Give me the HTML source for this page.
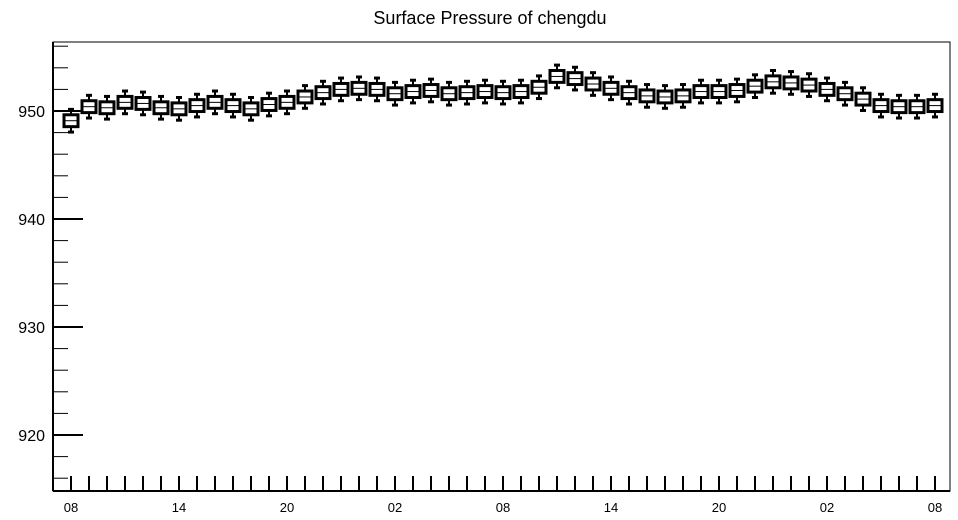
<!DOCTYPE html>
<html><head><meta charset="utf-8"><style>
body{margin:0;background:#fff;}
svg{display:block;font-family:"Liberation Sans",sans-serif;}
</style></head><body>
<svg id="c" width="958" height="520">
<text x="490" y="24" text-anchor="middle" font-size="18">Surface Pressure of chengdu</text>
<g id="axes"></g><g id="boxes"></g>
</svg>
<script>
const medians=[949.1,950.4,950.3,950.8,950.7,950.3,950.2,950.5,950.8,950.5,950.2,950.6,950.8,951.3,951.7,952.0,952.1,952.0,951.6,951.8,951.9,951.6,951.7,951.8,951.7,951.8,952.2,953.2,953.0,952.5,952.1,951.7,951.4,951.3,951.4,951.8,951.8,951.9,952.3,952.7,952.6,952.4,952.0,951.6,951.1,950.5,950.4,950.4,950.5];
const boxHalf=0.55, whiskerHalf=1.05;
const yTicks=[920,930,940,950];
const xLabels=["08","14","20","02","08","14","20","02","08"];
const NS="http://www.w3.org/2000/svg";
const L=53,R=950,T=42,B=491;
const y=v=>111-(v-950)*10.8;
const x=i=>71+i*18;
function mk(t,a,p){const e=document.createElementNS(NS,t);for(const k in a)e.setAttribute(k,a[k]);p.appendChild(e);return e;}
const ax=document.getElementById('axes'),bx=document.getElementById('boxes');
const fr=mk('rect',{x:L,y:T,width:R-L,height:B-T,fill:'none',stroke:'#000','stroke-width':1},ax);


mk('line',{x1:L,y1:T,x2:L,y2:B,stroke:'#000','stroke-width':2},ax);
mk('line',{x1:L,y1:B,x2:R,y2:B,stroke:'#000','stroke-width':2},ax);
for(let v=916;v<=956;v+=2){const major=v%10===0;
 const ln=mk('line',{x1:L,x2:L+(major?30:15),y1:y(v),y2:y(v),stroke:'#000','stroke-width':major?2:1},ax);
 
 }
yTicks.forEach(v=>{const t=mk('text',{x:45,y:y(v)+6,'text-anchor':'end','font-size':16},ax);t.textContent=v;
 
 });
for(let i=0;i<medians.length;i++){const ln=mk('line',{x1:x(i),x2:x(i),y1:B,y2:B-15,stroke:'#000','stroke-width':2},ax);
 
 }
xLabels.forEach((s,k)=>{const t=mk('text',{x:x(k*6),y:512,'text-anchor':'middle','font-size':13},ax);t.textContent=s;
 
 });
medians.forEach((m,i)=>{const g=mk('g',{},bx);
 
 
 const cx=x(i);
 mk('line',{x1:cx,x2:cx,y1:y(m+whiskerHalf),y2:y(m-whiskerHalf),stroke:'#000','stroke-width':2},g);
 mk('line',{x1:cx-3,x2:cx+3,y1:y(m+whiskerHalf),y2:y(m+whiskerHalf),stroke:'#000','stroke-width':3},g);
 mk('line',{x1:cx-3,x2:cx+3,y1:y(m-whiskerHalf),y2:y(m-whiskerHalf),stroke:'#000','stroke-width':3},g);
 mk('rect',{x:cx-7,y:y(m+boxHalf),width:14,height:y(m-boxHalf)-y(m+boxHalf),fill:'#fff',stroke:'#000','stroke-width':3},g);
 mk('line',{x1:cx-7,x2:cx+7,y1:y(m),y2:y(m),stroke:'#000','stroke-width':1},g);
});
</script>
</body></html>
